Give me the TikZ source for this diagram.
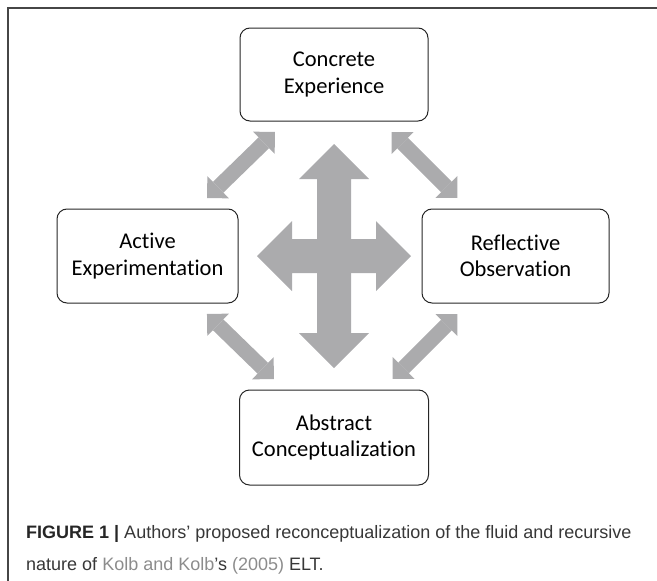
\documentclass[tikz,border=0pt]{standalone}
\usepackage{fontspec}
\setmainfont{Liberation Sans}
\newfontfamily\stagefont[Ligatures=NoCommon]{Carlito}
\usetikzlibrary{arrows.meta}

\definecolor{arrowgray}{RGB}{171,171,173}
\definecolor{framegray}{RGB}{70,70,70}
\definecolor{captext}{RGB}{55,55,55}
\definecolor{citegray}{RGB}{140,140,140}

\begin{document}
\begin{tikzpicture}
[x=1pt,y=-1pt,
 stage/.style={draw=black!85,line width=1pt,rounded corners=10pt,align=center,
   inner sep=0pt,font=\stagefont\fontsize{22.5}{26.5}\selectfont},
 link/.style={draw=arrowgray,line width=15pt,
   {Triangle[width=31pt,length=15.5pt,line width=0pt]}-{Triangle[width=31pt,length=15.5pt,line width=0pt]},
   shorten <=15pt,shorten >=15pt},
 caption/.style={anchor=base west,inner sep=0pt,text=captext,font=\fontsize{18}{22}\selectfont}]
   \useasboundingbox (0,0) rectangle (657,581);
   \draw[framegray,line width=1.3pt] (8,581) -- (8,8) -- (657,8);

   \node[stage,minimum width=188pt,minimum height=93pt] (ce) at (334,74.5) {Concrete\\Experience};
   \node[stage,minimum width=181pt,minimum height=94pt] (ae) at (147.5,256) {Active\\Experimentation};
   \node[stage,minimum width=187pt,minimum height=94pt] (ro) at (515.5,256) {Reflective\\Observation};
   \node[stage,minimum width=189pt,minimum height=95pt] (ac) at (334,437.5) {Abstract\\Conceptualization};

   \draw[link] (ce) -- (ae);
   \draw[link] (ce) -- (ro);
   \draw[link] (ae) -- (ac);
   \draw[link] (ro) -- (ac);

   % four-way cross in the middle
   \fill[arrowgray] (334,144) -- (369,179) -- (351,179) -- (351,333) -- (369,333)
     -- (334,368) -- (299,333) -- (317,333) -- (317,179) -- (299,179) -- cycle;
   \fill[arrowgray] (257,256) -- (292,221) -- (292,239) -- (376,239) -- (376,221)
     -- (411,256) -- (376,291) -- (376,273) -- (292,273) -- (292,291) -- cycle;

   \node[caption] (cap1) at (26,538) {\textbf{\color{black!85}FIGURE 1 |} Authors’ proposed reconceptualization of the fluid and recursive};
   \node[caption] (cap2) at (26,570) {nature of \textcolor{citegray}{Kolb and Kolb}’s \textcolor{citegray}{(2005)} ELT.};
\end{tikzpicture}
\end{document}
